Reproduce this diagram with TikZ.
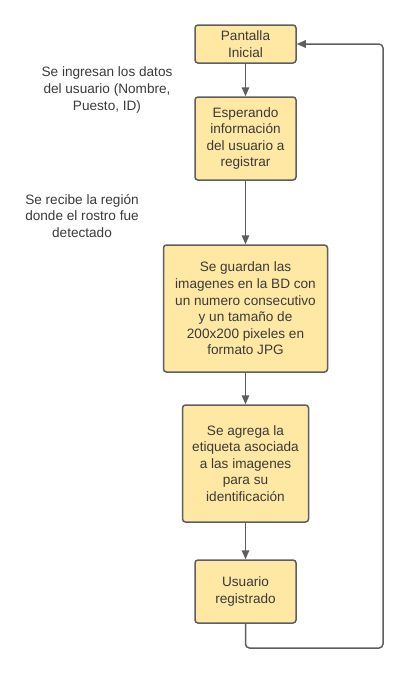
\documentclass[tikz,border=0pt]{standalone}
\usepackage{fontspec}
\setmainfont{Liberation Sans}
\usetikzlibrary{positioning, arrows.meta}
\definecolor{amarillo}{HTML}{FFE8A3}
\definecolor{borde}{HTML}{5E5E5E}
\definecolor{texto}{HTML}{3A3A3A}
\tikzset{
  caja/.style={draw=borde, fill=amarillo, line width=1.5pt, rounded corners=3pt,
    align=center, inner sep=0pt, text=texto, font=\fontsize{13.6}{16.6}\selectfont},
  nota/.style={align=center, inner sep=0pt, text=texto, font=\fontsize{13.6}{16.6}\selectfont},
  flecha/.style={draw=borde, line width=1.5pt, -{Stealth[length=9pt,width=7.5pt,inset=0pt]}}
}
\begin{document}
\begin{tikzpicture}[x=1pt,y=-1pt]
    \useasboundingbox (0,0) rectangle (418,678);

    \node[caja, minimum width=101pt, minimum height=38pt] (ini) at (245.5,44) {Pantalla\\Inicial};%pantalla inicial
    \node[caja, minimum width=101pt, minimum height=83pt] (esp) at (245.5,138.5) {Esperando\\informaci\'on\\del usuario a\\registrar};
    \node[caja, minimum width=164pt, minimum height=127pt] (grd) at (245.5,308.5) {Se guardan las\\imagenes en la BD con\\un numero consecutivo\\y un tama\~no de\\200x200 pixeles en\\formato JPG};
    \node[caja, minimum width=126pt, minimum height=117pt] (etq) at (245.5,463.5) {Se agrega la\\etiqueta asociada\\a las imagenes\\para su\\identificaci\'on};
    \node[caja, minimum width=101pt, minimum height=63pt] (usr) at (245.5,591.5) {Usuario\\registrado};

    \node[nota] (nota1) at (107,90) {Se ingresan los datos\\del usuario (Nombre,\\Puesto, ID)};
    \node[nota] (nota2) at (82,216) {Se recibe la regi\'on\\donde el rostro fue\\detectado};

    \coordinate (esq) at (383,648);%esquina del regreso
    \foreach \A/\B in {ini/esp, esp/grd, grd/etq, etq/usr}\draw[flecha](\A)--(\B);
    \draw[flecha, rounded corners=4pt](usr.south) |- (esq) |- (ini.east);
\end{tikzpicture}
\end{document}
